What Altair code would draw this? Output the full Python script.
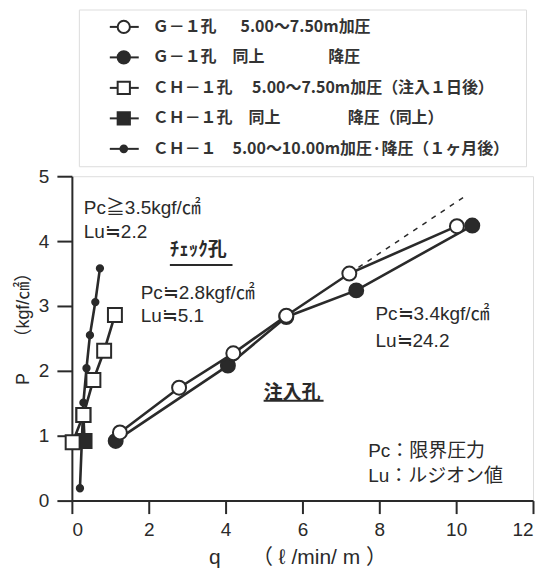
import altair as alt
import pandas as pd

# ---------------- data ----------------
series_keys = ["G1_up", "G1_down", "CH1_up", "CH1_down", "CH1_month"]
series_labels = [
    "Ｇ－１孔　\u20025.00～7.50m加圧",
    "Ｇ－１孔　同上　　　　降圧",
    "ＣＨ－１孔　 5.00～7.50m加圧（注入１日後）",
    "ＣＨ－１孔　同上　　　　 降圧（同上）",
    "ＣＨ－１\u2002\u20025.00～10.00m加圧·降圧（１ヶ月後）",
]

g1_up_q = [1.25, 2.79, 4.20, 5.58, 7.22, 10.02]
g1_up_p = [1.05, 1.74, 2.27, 2.85, 3.50, 4.23]
g1_down_q = [10.42, 7.40, 5.58, 4.06, 1.14]
g1_down_p = [4.24, 3.24, 2.83, 2.08, 0.92]
ch1_up_q = [0.02, 0.30, 0.56, 0.84, 1.12]
ch1_up_p = [0.90, 1.32, 1.86, 2.31, 2.86]
ch1_down_q = [0.30, 0.33]
ch1_down_p = [1.32, 0.92]
ch1_month_q = [0.21, 0.30, 0.38, 0.47, 0.61, 0.73]
ch1_month_p = [0.19, 1.51, 2.04, 2.55, 3.06, 3.58]

trend_q = [7.22, 10.18]
trend_p = [3.50, 4.67]

ann_texts = ["Pc≧3.5kgf/㎠", "Lu≒2.2", "Pc≒2.8kgf/㎠", "Lu≒5.1",
             "Pc≒3.4kgf/㎠", "Lu≒24.2", "Pc：限界圧力", "Lu：ルジオン値"]
ann_q = [0.31, 0.31, 1.79, 1.79, 7.90, 7.90, 7.71, 7.71]
ann_p = [4.51, 4.14, 3.20, 2.85, 2.88, 2.46, 0.77, 0.38]

title_texts = ["ﾁｪｯｸ孔", "注入孔"]
title_q = [2.55, 4.99]
title_p = [3.86, 1.66]
uline_q2 = [4.18, 6.55]
uline_p = [3.63, 1.54]

x_ticks = [0, 2, 4, 6, 8, 10, 12]
y_ticks = [0, 1, 2, 3, 4, 5]

# ---------------- tables ----------------
rows = []
for key, qs, ps in [("G1_up", g1_up_q, g1_up_p), ("G1_down", g1_down_q, g1_down_p),
                    ("CH1_up", ch1_up_q, ch1_up_p), ("CH1_down", ch1_down_q, ch1_down_p),
                    ("CH1_month", ch1_month_q, ch1_month_p)]:
    for i, (q, p) in enumerate(zip(qs, ps)):
        rows.append({"series": key, "order": i, "q": q, "p": p})
df = pd.DataFrame(rows)
trend_df = pd.DataFrame({"q": trend_q, "p": trend_p})
ann_df = pd.DataFrame({"text": ann_texts, "q": ann_q, "p": ann_p})
ttl_df = pd.DataFrame({"text": title_texts, "q": title_q, "p": title_p,
                       "q2": uline_q2, "pu": uline_p})
leg_df = pd.DataFrame({"series": series_keys, "label": series_labels})

DARK = "#2a2a2a"
LATIN = "Liberation Sans, Noto Sans CJK JP"
CJK = "Noto Sans CJK JP"

shape_scale = alt.Scale(domain=series_keys,
                        range=["circle", "circle", "square", "square", "circle"])
fill_scale = alt.Scale(domain=series_keys,
                       range=["white", DARK, "white", DARK, DARK])

xs = alt.Scale(domain=[0, 12], nice=False)
ys = alt.Scale(domain=[0, 5], nice=False)

x_enc = alt.X("q:Q", scale=xs, axis=alt.Axis(
    values=x_ticks, format="d", title="q　　（ ℓ /min/ m ）", grid=False,
    tickSize=13, tickWidth=2, tickColor=DARK, domainWidth=2, domainColor=DARK,
    labelFontSize=19, labelFont=LATIN, labelColor=DARK, labelPadding=7,
    titleFontSize=21, titleFont=LATIN, titleFontWeight="normal", titleColor=DARK,
    titlePadding=7, titleX=226))
y_enc = alt.Y("p:Q", scale=ys, axis=alt.Axis(
    values=y_ticks, format="d", title="P　　（kgf/㎠）", grid=False,
    tickSize=15, tickWidth=2, tickColor=DARK, domainWidth=2, domainColor=DARK,
    labelFontSize=19, labelFont=LATIN, labelColor=DARK, labelPadding=8,
    titleFontSize=18, titleFont=LATIN, titleFontWeight="normal", titleColor=DARK,
    titlePadding=6, titleY=148))

base = alt.Chart(df)

lines = base.mark_line(color=DARK, strokeWidth=2.6).encode(
    x=x_enc, y=y_enc, detail="series:N", order="order:Q")

trend = alt.Chart(trend_df).mark_line(color=DARK, strokeWidth=1.5,
                                      strokeDash=[5, 6]).encode(
    x=alt.X("q:Q", scale=xs), y=alt.Y("p:Q", scale=ys))


def pts(keys, size):
    return base.transform_filter(
        alt.FieldOneOfPredicate(field="series", oneOf=keys)
    ).mark_point(filled=True, stroke=DARK, strokeWidth=2, opacity=1,
                 size=size).encode(
        x=alt.X("q:Q", scale=xs), y=alt.Y("p:Q", scale=ys),
        shape=alt.Shape("series:N", scale=shape_scale, legend=None),
        fill=alt.Fill("series:N", scale=fill_scale, legend=None))


pts_filled = pts(["G1_down", "CH1_down"], 195)
pts_open = pts(["G1_up", "CH1_up"], 195)
pts_small = pts(["CH1_month"], 40)

ann = alt.Chart(ann_df).mark_text(align="left", baseline="middle", fontSize=19,
                                  font=LATIN, color=DARK).encode(
    x=alt.X("q:Q", scale=xs), y=alt.Y("p:Q", scale=ys), text="text:N")

ttl = alt.Chart(ttl_df).mark_text(align="left", baseline="middle", fontSize=19,
                                  font=CJK, fontWeight="bold", color=DARK).encode(
    x=alt.X("q:Q", scale=xs), y=alt.Y("p:Q", scale=ys), text="text:N")
uline = alt.Chart(ttl_df).mark_rule(color=DARK, strokeWidth=2).encode(
    x=alt.X("q:Q", scale=xs), x2="q2:Q", y=alt.Y("pu:Q", scale=ys))

main = alt.layer(lines, trend, pts_filled, pts_open, pts_small, ann, ttl, uline
                 ).properties(width=462, height=325)

# ---------------- legend panel ----------------
leg_y = alt.Y("series:N", sort=series_keys, axis=None,
              scale=alt.Scale(type="point", padding=0.57))
leg_base = alt.Chart(leg_df)
leg_rule = leg_base.mark_rule(color=DARK, strokeWidth=2).encode(
    y=leg_y, x=alt.value(31), x2=alt.value(60))


def leg_pts(keys, size):
    return leg_base.transform_filter(
        alt.FieldOneOfPredicate(field="series", oneOf=keys)
    ).mark_point(filled=True, stroke=DARK, strokeWidth=2, opacity=1,
                 size=size).encode(
        y=leg_y, x=alt.value(45),
        shape=alt.Shape("series:N", scale=shape_scale, legend=None),
        fill=alt.Fill("series:N", scale=fill_scale, legend=None))


leg_big = leg_pts(["G1_up", "G1_down", "CH1_up", "CH1_down"], 150)
leg_small = leg_pts(["CH1_month"], 45)
leg_txt = leg_base.mark_text(align="left", baseline="middle", fontSize=16,
                             font=CJK, fontWeight="bold", color="#333333").encode(
    y=leg_y, x=alt.value(74), text="label:N")
legend = alt.layer(leg_rule, leg_big, leg_small, leg_txt).properties(
    width=448, height=157)

chart = alt.vconcat(legend, main, spacing=10, bounds="flush", center=True
                    ).resolve_scale(shape="independent", fill="independent"
                                    ).properties(
    padding={"left": 5, "top": 0, "right": 0, "bottom": 0}
).configure_view(stroke=DARK, strokeWidth=2.5).configure(background="white")

chart.save("out.html", embed_options={"renderer": "svg", "actions": False})
